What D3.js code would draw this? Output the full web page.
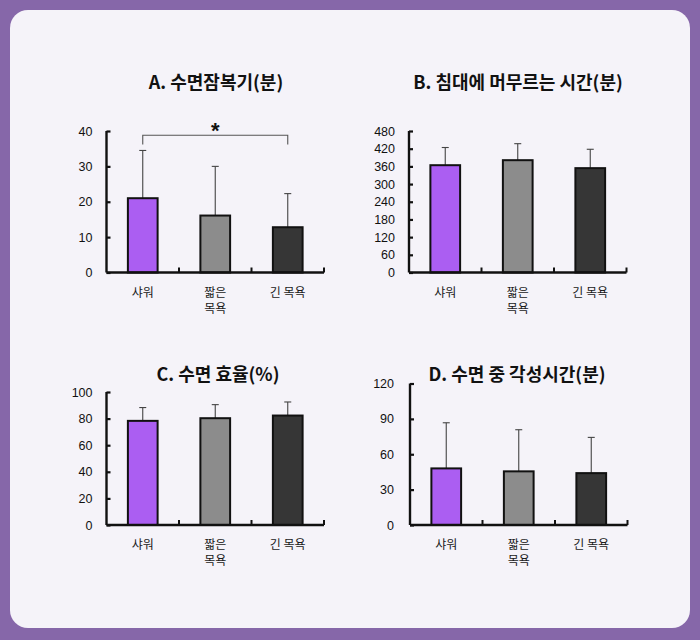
<!DOCTYPE html>
<html><head><meta charset="utf-8">
<script src="https://cdn.jsdelivr.net/npm/d3@7"></script>
<style>
html,body{margin:0;padding:0;background:#8667a9;}
svg{display:block;}
</style></head>
<body>
<svg id="chart" width="700" height="640"></svg>
<script>
const categories = ["샤워", "짧은\n목욕", "긴 목욕"];
const colors = ["#ab5ef2", "#8c8c8c", "#363636"];

const titles = ["A. 수면잠복기(분)", "B. 침대에 머무르는 시간(분)", "C. 수면 효율(%)", "D. 수면 중 각성시간(분)"];

const latencyMean = [21, 16.1, 12.8];
const latencyErr  = [34.5, 30, 22.3];
const latencyTicks = [0, 10, 20, 30, 40];

const timeInBedMean = [364, 381, 354];
const timeInBedErr  = [424, 437, 418];
const timeInBedTicks = [0, 60, 120, 180, 240, 300, 360, 420, 480];

const efficiencyMean = [78.3, 80.3, 82.3];
const efficiencyErr  = [88.3, 90.5, 92.5];
const efficiencyTicks = [0, 20, 40, 60, 80, 100];

const wakeMean = [48, 45.5, 44];
const wakeErr  = [86.7, 80.8, 74.3];
const wakeTicks = [0, 30, 60, 90, 120];

const significance = {from: 0, to: 2, level: 38.8, leg: 36.2, label: "*"};

const FONT = "'Noto Sans CJK KR', 'Noto Sans', sans-serif";
const NUMFONT = "'Liberation Sans', Arial, sans-serif";

const svg = d3.select("#chart");
svg.append("rect").attr("x", 10).attr("y", 10).attr("width", 680).attr("height", 618)
  .attr("rx", 18).attr("fill", "#f5f3f9");

const panels = [
  {title: titles[0], mean: latencyMean, err: latencyErr, ticks: latencyTicks, x0: 106.5, top: 131, bottom: 272.5, titleX: 216, titleY: 89, labelGap: 14, sig: significance},
  {title: titles[1], mean: timeInBedMean, err: timeInBedErr, ticks: timeInBedTicks, x0: 409, top: 131, bottom: 272.5, titleX: 518, titleY: 89, labelGap: 14},
  {title: titles[2], mean: efficiencyMean, err: efficiencyErr, ticks: efficiencyTicks, x0: 106.5, top: 392, bottom: 525, titleX: 218, titleY: 381, labelGap: 14},
  {title: titles[3], mean: wakeMean, err: wakeErr, ticks: wakeTicks, x0: 410, top: 383.5, bottom: 525, titleX: 517, titleY: 381, labelGap: 16},
];

const plotW = 217.5;

panels.forEach(p => {
  const g = svg.append("g");
  const x = d3.scaleBand().domain(categories).range([p.x0, p.x0 + plotW]).paddingInner(0.59).paddingOuter(0.295);
  const y = d3.scaleLinear().domain([0, d3.max(p.ticks)]).range([p.bottom, p.top]);

  g.append("text").attr("x", p.titleX).attr("y", p.titleY).attr("text-anchor", "middle")
    .attr("font-family", FONT).attr("font-weight", 700).attr("font-size", 18).attr("fill", "#111")
    .text(p.title);

  // error bars (behind bars)
  const capW = 7;
  categories.forEach((c, i) => {
    const cx = x(c) + x.bandwidth() / 2;
    g.append("line").attr("x1", cx).attr("x2", cx).attr("y1", y(p.mean[i])).attr("y2", y(p.err[i]))
      .attr("stroke", "#444").attr("stroke-width", 1.1);
    g.append("line").attr("x1", cx - capW / 2).attr("x2", cx + capW / 2).attr("y1", y(p.err[i])).attr("y2", y(p.err[i]))
      .attr("stroke", "#444").attr("stroke-width", 1.1);
  });

  // bars
  g.selectAll("rect.bar").data(categories).join("rect").attr("class", "bar")
    .attr("x", d => x(d)).attr("width", x.bandwidth())
    .attr("y", (d, i) => y(p.mean[i])).attr("height", (d, i) => y(0) - y(p.mean[i]))
    .attr("fill", (d, i) => colors[i]).attr("stroke", "#111").attr("stroke-width", 2);

  // y axis
  const yAxis = d3.axisLeft(y).tickValues(p.ticks).tickSize(-4).tickPadding(p.labelGap);
  const ya = g.append("g").attr("transform", `translate(${p.x0},0)`).call(yAxis);
  ya.select(".domain").attr("stroke", "#111").attr("stroke-width", 2.4).attr("d", `M0,${p.top}V${p.bottom}`);
  ya.selectAll(".tick line").attr("stroke", "#111").attr("stroke-width", 2.2);
  ya.selectAll(".tick text").attr("font-family", NUMFONT).attr("font-size", 12.5).attr("fill", "#111");

  // x axis
  const xa = g.append("g");
  xa.append("line").attr("x1", p.x0).attr("x2", p.x0 + plotW).attr("y1", p.bottom).attr("y2", p.bottom)
    .attr("stroke", "#111").attr("stroke-width", 2.4);
  categories.forEach((c, i) => {
    const bx = x(c) - x.step() * x.paddingInner() / 2 + x.step();
    xa.append("line").attr("x1", bx).attr("x2", bx).attr("y1", p.bottom).attr("y2", p.bottom - 5)
      .attr("stroke", "#111").attr("stroke-width", 2);
    c.split("\n").forEach((ln, k) => {
      xa.append("text").attr("text-anchor", "middle").attr("font-family", FONT)
        .attr("font-size", 12).attr("fill", "#1a1a1a")
        .attr("x", x(c) + x.bandwidth() / 2).attr("y", p.bottom + 24 + k * 16).text(ln);
    });
  });

  if (p.sig) {
    const s = p.sig;
    const x1 = x(categories[s.from]) + x.bandwidth() / 2;
    const x2 = x(categories[s.to]) + x.bandwidth() / 2;
    g.append("path").attr("d", `M${x1},${y(s.leg)}V${y(s.level)}H${x2}V${y(s.leg)}`)
      .attr("fill", "none").attr("stroke", "#555").attr("stroke-width", 1.1);
    g.append("text").attr("x", (x1 + x2) / 2).attr("y", y(s.level) + 3).attr("text-anchor", "middle")
      .attr("font-family", NUMFONT).attr("font-weight", 700).attr("font-size", 22).attr("fill", "#111").text(s.label);
  }
});
</script>
</body></html>
